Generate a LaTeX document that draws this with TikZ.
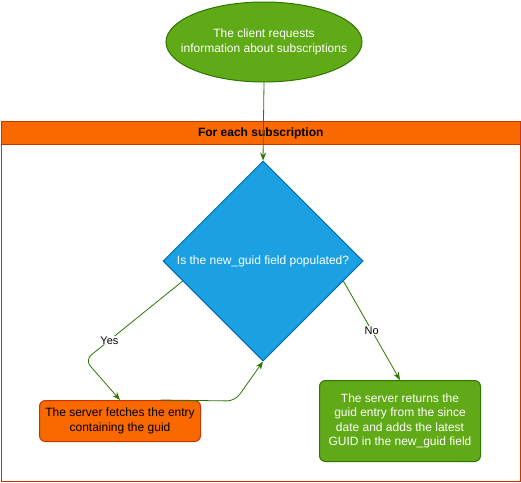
\documentclass[tikz,border=0pt]{standalone}
\usepackage{fontspec}
\setmainfont{Liberation Sans}
\usetikzlibrary{arrows.meta,positioning,calc,shapes.geometric}

\definecolor{orangefill}{HTML}{FA6800}
\definecolor{orangeline}{HTML}{C73500}
\definecolor{greenfill}{HTML}{60A917}
\definecolor{greenline}{HTML}{2D7600}
\definecolor{bluefill}{HTML}{1BA1E2}
\definecolor{blueline}{HTML}{006EAF}

\begin{document}
\begin{tikzpicture}[x=1pt,y=-1pt,font=\fontsize{12}{14.5}\selectfont,
  box/.style={rectangle,rounded corners=6pt,line width=1pt,align=center,minimum width=161pt},
  flow/.style={draw=greenline,line width=0.8pt,-{Stealth[length=8pt,width=6pt]}},
  tag/.style={fill=white,inner sep=1pt,font=\fontsize{11}{13}\selectfont}]
\useasboundingbox (0,0) rectangle (521,482);

% loop container
\node[rectangle,draw=orangeline,line width=1pt,minimum width=519.5pt,minimum height=360pt,anchor=north west,name=loop] at (0.5,121) {};
\node[rectangle,draw=orangeline,fill=orangefill,line width=1pt,minimum width=519.5pt,minimum height=23pt,anchor=north west,font=\fontsize{12}{14.5}\selectfont\bfseries,name=header] at (0.5,121) {For each subscription};

% start (text set apart, so the ellipse keeps its size)
\node[ellipse,draw=greenline,fill=greenfill,line width=1pt,minimum width=196pt,minimum height=80pt,inner sep=0pt,name=client] at (264,42) {};
\node[text=white,align=center,name=clienttext] at (client.center) {The client requests\\information about subscriptions};

% decision
\node[diamond,draw=blueline,fill=bluefill,line width=1pt,text=white,minimum width=200pt,minimum height=200pt,inner sep=1pt,name=decide] at (263,261) {Is the new\_guid field populated?};

% outcomes
\node[box,draw=orangeline,fill=orangefill,minimum height=41pt,name=fetch] at (120,421) {The server fetches the entry\\containing the guid};
\node[box,draw=greenline,fill=greenfill,text=white,minimum height=81pt,name=returns] at (400,421) {The server returns the\\guid entry from the since\\date and adds the latest\\GUID in the new\_guid field};

% arrows
\coordinate (yesstart) at ($(decide.west)!0.2!(decide.south)$);
\coordinate (nostart) at ($(decide.east)!0.2!(decide.south)$);
\coordinate (yesbend) at (85,360);
\coordinate (backstart) at ($(fetch.north)!0.5!(fetch.north east)$);
\coordinate (backbend) at (235,401);

\draw[flow] (client.south) -- (decide.north);
\draw[flow,rounded corners=8pt] (yesstart) -- node[tag,pos=0.75] {Yes} (yesbend) -- (fetch.north);
\draw[flow,rounded corners=8pt] (backstart) -- (backbend) -- (decide.south);
\draw[flow] (nostart) -- node[tag,pos=0.5] {No} (returns.north);
\end{tikzpicture}
\end{document}
